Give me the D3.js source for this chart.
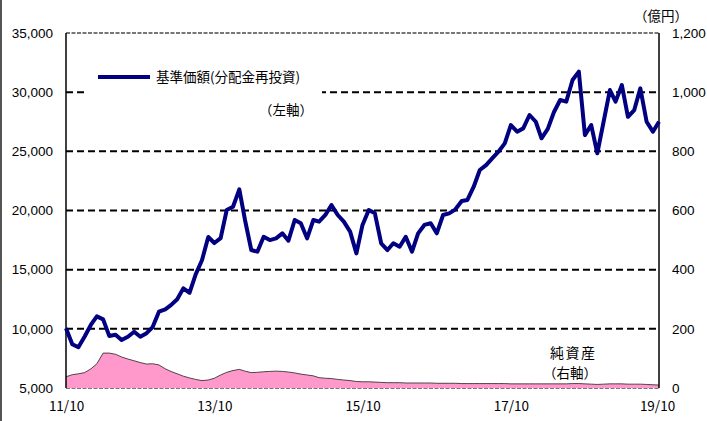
<!DOCTYPE html>
<html><head><meta charset="utf-8">
<script src="https://cdn.jsdelivr.net/npm/d3@7"></script>
<style>
html,body{margin:0;padding:0;background:#fff;}
svg{display:block;}
</style></head>
<body>
<svg id="chart" width="707" height="421"></svg>
<script>
// Monthly data, 2011/10 .. 2019/10
const startYear = 2011, startMonth = 10;
const navValues = [10050,8700,8450,9350,10350,11050,10800,9400,9500,9050,9330,9750,
  9330,9630,10150,11450,11650,12000,12500,13420,13050,14600,15800,17760,
  17250,17670,20040,20320,21790,19200,16660,16520,17780,17500,17650,18070,
  17450,19200,18920,17650,19200,19060,19620,20460,19620,19060,18210,16380,
  18780,20040,19760,17230,16660,17230,16940,17780,16520,18070,18780,18920,
  18070,19620,19760,20100,20800,20890,22010,23420,23840,24410,24970,25670,
  27220,26660,26940,28070,27500,26100,26900,28300,29340,29200,31030,31740,
  26370,27220,24830,27500,30180,29200,30600,27920,28490,30320,27500,26660,27500];
const assetValues = [38,45,48,52,65,82,118,118,114,105,98,92,
  86,81,82,78,65,56,48,40,34,29,25,27,
  33,44,53,59,63,57,52,53,55,56,57,56,
  54,51,47,44,41,35,33,32,29,27,25,22,
  21,21,20,19,18,18,18,17,17,17,17,17,
  16,16,16,16,15,15,15,15,15,15,15,15,
  14,14,14,14,14,14,14,14,14,14,15,15,
  14,13,12,13,14,14,14,13,13,13,12,11,10];
const xTickLabels = ["11/10","13/10","15/10","17/10","19/10"];
const leftTicks = [5000,10000,15000,20000,25000,30000,35000];
const rightTicks = [0,200,400,600,800,1000,1200];
const navLabel = "基準価額(分配金再投資)";
const navAxisLabel = "（左軸）";
const assetLabel1 = "純資産";
const assetLabel2 = "（右軸）";
const unitLabel = "（億円）";

const dates = navValues.map((_, i) => new Date(startYear, startMonth - 1 + i, 1));
const navData = dates.map((d, i) => ({date: d, v: navValues[i]}));
const assetData = dates.map((d, i) => ({date: d, v: assetValues[i]}));

const svg = d3.select("#chart");
const L = 66, R = 659, T = 33, B = 388;

const x = d3.scaleTime().domain([dates[0], dates[dates.length - 1]]).range([L, R]);
const yL = d3.scaleLinear().domain([5000, 35000]).range([B, T]);
const yR = d3.scaleLinear().domain([0, 1200]).range([B, T]);

// outer left border
svg.append("line").attr("x1", 1).attr("x2", 1).attr("y1", 0).attr("y2", 421)
  .attr("stroke", "#555").attr("stroke-width", 2);

const numFont = "'Liberation Sans', Arial, sans-serif";
const jpFont = "'Noto Sans CJK JP', sans-serif";

// grid lines
svg.append("g").selectAll("line").data(leftTicks.filter(t => t > 5000 && t < 35000)).join("line")
  .attr("x1", L).attr("x2", R).attr("y1", d => yL(d)).attr("y2", d => yL(d))
  .attr("stroke", "#000").attr("stroke-width", 2).attr("stroke-dasharray", "7,4");
// top & bottom borders (gray dashed)
[35000, 5000].forEach(t => {
  svg.append("line").attr("x1", L).attr("x2", R).attr("y1", yL(t)).attr("y2", yL(t))
    .attr("stroke", "#777").attr("stroke-width", 2).attr("stroke-dasharray", "4,1.5");
});

// net assets area
const area = d3.area().x(d => x(d.date)).y0(B).y1(d => yR(d.v));
svg.append("path").datum(assetData).attr("d", area).attr("fill", "#FF99CC");
svg.append("path").datum(assetData)
  .attr("d", d3.line().x(d => x(d.date)).y(d => yR(d.v)))
  .attr("fill", "none").attr("stroke", "#222").attr("stroke-width", 0.8);

// axes lines
svg.append("line").attr("x1", L).attr("x2", L).attr("y1", T).attr("y2", B)
  .attr("stroke", "#000").attr("stroke-width", 1.5);
svg.append("line").attr("x1", R).attr("x2", R).attr("y1", T).attr("y2", B)
  .attr("stroke", "#000").attr("stroke-width", 1.5);

// legend background box
svg.append("rect").attr("x", 84).attr("y", 60).attr("width", 238).attr("height", 62).attr("fill", "#fff");

// NAV line
svg.append("path").datum(navData)
  .attr("d", d3.line().x(d => x(d.date)).y(d => yL(d.v)))
  .attr("fill", "none").attr("stroke", "#000080").attr("stroke-width", 4)
  .attr("stroke-linejoin", "round");

// left axis labels
const gL = svg.append("g").attr("transform", `translate(${L},0)`)
  .call(d3.axisLeft(yL).tickValues(leftTicks).tickSize(0).tickPadding(13)
    .tickFormat(d3.format(",")));
gL.select(".domain").remove();
gL.selectAll("text").attr("font-family", numFont).attr("font-size", 13.5).attr("fill", "#000");

// right axis labels
const gR = svg.append("g").attr("transform", `translate(${R},0)`)
  .call(d3.axisRight(yR).tickValues(rightTicks).tickSize(0).tickPadding(13)
    .tickFormat(d3.format(",")));
gR.select(".domain").remove();
gR.selectAll("text").attr("font-family", numFont).attr("font-size", 13.5).attr("fill", "#000");

// x axis labels
const xTickDates = xTickLabels.map((_, i) => dates[i * 24]);
const gX = svg.append("g").attr("transform", `translate(0,${B})`)
  .call(d3.axisBottom(x).tickValues(xTickDates).tickSize(0).tickPadding(13)
    .tickFormat((d, i) => xTickLabels[i]));
gX.select(".domain").remove();
gX.selectAll("text").attr("font-family", jpFont).attr("font-size", 13.5).attr("fill", "#000");
gX.selectAll(".tick").filter((d, i) => i === xTickLabels.length - 1)
  .select("text").attr("dx", -2);

// legend
svg.append("line").attr("x1", 98).attr("x2", 150).attr("y1", 77).attr("y2", 77)
  .attr("stroke", "#000080").attr("stroke-width", 4);
svg.append("text").attr("x", 156).attr("y", 82).text(navLabel)
  .attr("font-family", jpFont).attr("font-size", 13.5);
svg.append("text").attr("x", 259).attr("y", 115).text(navAxisLabel)
  .attr("font-family", jpFont).attr("font-size", 13.5);

// asset labels
svg.append("text").attr("x", 550).attr("y", 358).text(assetLabel1)
  .attr("font-family", jpFont).attr("font-size", 14).attr("letter-spacing", 1.5);
svg.append("text").attr("x", 543).attr("y", 378).text(assetLabel2)
  .attr("font-family", jpFont).attr("font-size", 13.5);

// unit label
svg.append("text").attr("x", 634).attr("y", 21).text(unitLabel)
  .attr("font-family", jpFont).attr("font-size", 13.5);
</script>
</body></html>
